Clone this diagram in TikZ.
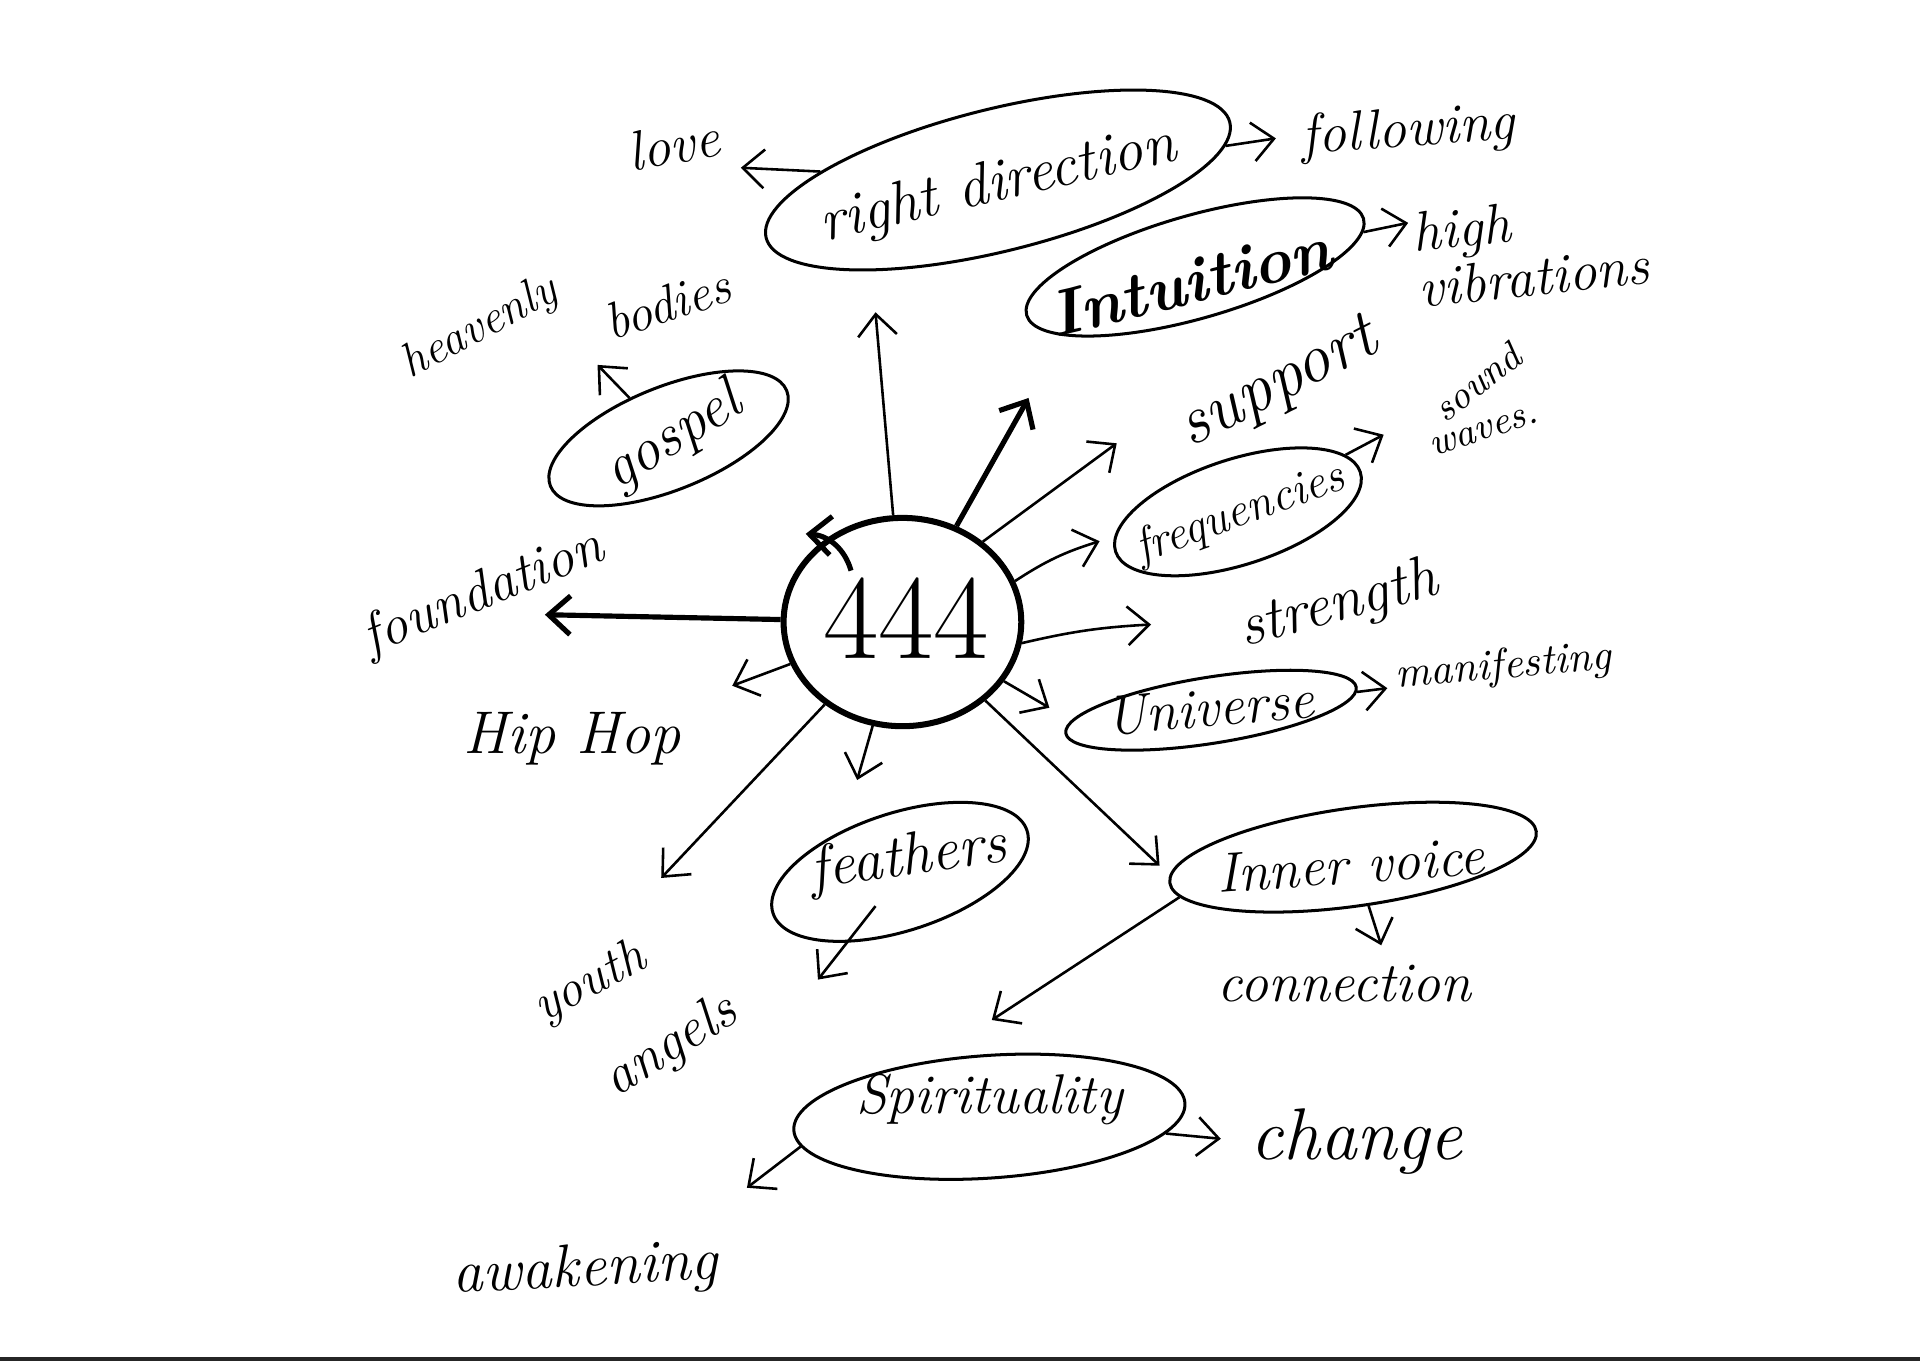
\documentclass[tikz,border=0pt]{standalone}
\usepackage{tikz}
\usetikzlibrary{shapes.geometric,arrows.meta}

\begin{document}
\begin{tikzpicture}[
    x=0.01cm, y=-0.01cm,
    hand/.style={font=\itshape\fontsize{#1}{#1}\selectfont, inner sep=0pt, align=left},
    oval/.style={ellipse, draw=black, line width=0.7pt, inner sep=0pt},
    arrow/.style={->, line width=0.6pt, >={Straight Barb[length=5pt,width=9pt]}}, % open hand-drawn tips
    bold/.style={arrow, line width=1.2pt}
]
\fill[white] (0,0) rectangle (1568,1111.5);
\useasboundingbox (0,0) rectangle (1568,1111.5);
\fill[black!85] (0,1108.5) rectangle (1568,1111.5);

% --- CENTRE ---
\node[oval, line width=1.4pt, minimum width=1.94cm, minimum height=1.7cm] (c444) at (737,508) {};
\node[hand=28] (c444-t) at (740,505) {\upshape 444};

% --- OVALS ---
\node[oval, minimum width=3.9cm, minimum height=1.16cm, rotate=14] (rd) at (815,147) {};
\node[hand=14, rotate=13] (rd-t) at (815,152) {right direction};
\node[oval, minimum width=2.86cm, minimum height=0.84cm, rotate=16] (intu) at (976,218) {};
\node[hand=15, rotate=14] (intu-t) at (972,230) {\bfseries Intuition};
\node[oval, minimum width=2.08cm, minimum height=0.84cm, rotate=22] (gospel) at (546,358) {};
\node[hand=14, rotate=32] (gospel-t) at (550,358) {gospel};
\node[oval, minimum width=2.1cm, minimum height=0.86cm, rotate=18] (freq) at (1011,418) {};
\node[hand=11, rotate=20] (freq-t) at (1013,420) {frequencies};
\node[oval, minimum width=2.4cm, minimum height=0.54cm, rotate=9] (uni) at (989,580) {};
\node[hand=13, rotate=5] (uni-t) at (988,578) {Universe};
\node[oval, minimum width=2.18cm, minimum height=0.96cm, rotate=18] (feath) at (735,712) {};
\node[hand=14, rotate=8] (feath-t) at (742,702) {feathers};
\node[oval, minimum width=3.02cm, minimum height=0.8cm, rotate=8] (inner) at (1105,700) {};
\node[hand=13, rotate=4] (inner-t) at (1103,706) {Inner voice};
\node[oval, minimum width=3.2cm, minimum height=1.0cm, rotate=4] (spirit) at (808,912) {};
\node[hand=13] (spirit-t) at (808,898) {Spirituality};

% --- LABELS ---
\node[hand=13, rotate=10] (love) at (550,118) {love};
\node[hand=13, rotate=4] (follow) at (1150,108) {following};
\node[hand=13, rotate=6] (high) at (1250,203) {high\\vibrations};
\node[hand=11, rotate=28] (heavenly) at (392,268) {heavenly};
\node[hand=12, rotate=18] (bodies) at (545,248) {bodies};
\node[hand=13, rotate=22] (found) at (395,485) {foundation};
\node[hand=16, rotate=27] (support) at (1045,315) {support};
\node[hand=9, rotate=38] (sound) at (1206,312) {sound};
\node[hand=9, rotate=18] (waves) at (1212,352) {waves.};
\node[hand=14, rotate=15] (strength) at (1093,495) {strength};
\node[hand=10, rotate=5] (mani) at (1228,545) {manifesting};
\node[hand=14] (hiphop) at (467,603) {Hip Hop};
\node[hand=12, rotate=28] (youth) at (482,803) {youth};
\node[hand=13, rotate=32] (angels) at (548,855) {angels};
\node[hand=13] (conn) at (1098,803) {connection};
\node[hand=17] (change) at (1108,932) {change};
\node[hand=14, rotate=3] (awake) at (478,1038) {awakening};

% --- ARROW ENDS ---
\coordinate (tipLove) at (605,137);
\coordinate (tipFollow) at (1042,113);
\coordinate (tipHigh) at (1150,182);
\coordinate (tipHeaven) at (488,298);
\coordinate (tipGospel) at (658,436);
\coordinate (tipFound) at (445,502);
\coordinate (tipUp) at (715,255);
\coordinate (tipSup1) at (840,325);
\coordinate (tipSup2) at (912,362);
\coordinate (tipFreq) at (898,442);
\coordinate (tipSound) at (1130,355);
\coordinate (tipStrength) at (940,510);
\coordinate (tipUni) at (857,578);
\coordinate (tipMani) at (1133,562);
\coordinate (tipHip) at (598,560);
\coordinate (tipFeath) at (700,637);
\coordinate (tipYouth) at (540,717);
\coordinate (tipInner) at (947,707);
\coordinate (tipAngels) at (668,800);
\coordinate (tipConn) at (1128,772);
\coordinate (tipSpirit) at (810,833);
\coordinate (tipChange) at (997,930);
\coordinate (tipAwake) at (610,970);

% --- ARROWS ---
\draw[arrow] (rd) -- (tipLove);
\draw[arrow] (rd) -- (tipFollow);
\draw[arrow] (intu) -- (tipHigh);
\draw[arrow] (gospel) -- (tipHeaven);
\draw[bold] ([shift={(-42,-42)}]c444.center) to[bend right=35] (tipGospel);
\draw[bold] (c444) -- (tipFound);
\draw[arrow] (c444) -- (tipUp);
\draw[bold] (c444) -- (tipSup1);
\draw[arrow] (c444.45) -- (tipSup2);
\draw[arrow] (c444.20) to[bend left=8] (tipFreq);
\draw[arrow] (freq) -- (tipSound);
\draw[arrow] (c444.-10) to[bend left=5] (tipStrength);
\draw[arrow] (c444) -- (tipUni);
\draw[arrow] (uni) -- (tipMani);
\draw[arrow] (c444) -- (tipHip);
\draw[arrow] (c444) -- (tipFeath);
\draw[arrow] (c444) -- (tipYouth);
\draw[arrow] (c444) -- (tipInner);
\draw[arrow] ([shift={(-20,28)}]feath.center) -- (tipAngels);
\draw[arrow] (inner) -- (tipConn);
\draw[arrow] (inner.185) -- (tipSpirit);
\draw[arrow] (spirit) -- (tipChange);
\draw[arrow] (spirit.185) -- (tipAwake);

\end{tikzpicture}
\end{document}
